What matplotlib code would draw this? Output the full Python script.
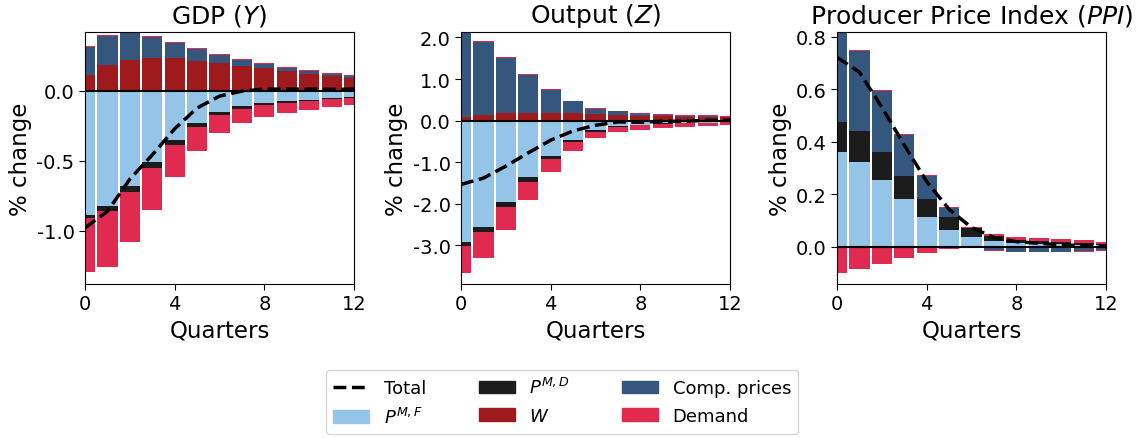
import matplotlib
matplotlib.use("Agg")
import matplotlib.pyplot as plt
from matplotlib.patches import Patch
from matplotlib.lines import Line2D
from matplotlib.ticker import FormatStrFormatter, MultipleLocator
import numpy as np

quarters = list(range(13))

# ---- GDP (Y) ----
gdp_pmf = [-0.884, -0.820, -0.678, -0.510, -0.351, -0.230, -0.152, -0.109, -0.088, -0.073, -0.064, -0.052, -0.043]
gdp_pmd = [-0.022, -0.036, -0.043, -0.040, -0.038, -0.028, -0.021, -0.021, -0.014, -0.015, -0.007, -0.007, -0.007]
gdp_w = [0.116, 0.187, 0.223, 0.235, 0.232, 0.213, 0.202, 0.178, 0.161, 0.145, 0.121, 0.104, 0.090]
gdp_comp = [0.197, 0.204, 0.222, 0.149, 0.112, 0.088, 0.056, 0.042, 0.031, 0.019, 0.021, 0.014, 0.014]
gdp_dem_pos = [0.005, 0.007, 0.005, 0.007, 0.004, 0.005, 0.005, 0.008, 0.007, 0.004, 0.005, 0.008, 0.007]
gdp_dem_neg = [-0.391, -0.403, -0.360, -0.299, -0.230, -0.171, -0.128, -0.100, -0.085, -0.068, -0.064, -0.057, -0.049]
gdp_total = [-0.979, -0.861, -0.631, -0.458, -0.271, -0.123, -0.038, -0.002, 0.012, 0.012, 0.012, 0.010, 0.012]

# ---- Output (Z) ----
z_pmf = [-2.920, -2.560, -1.952, -1.360, -0.856, -0.464, -0.232, -0.136, -0.096, -0.070, -0.060, -0.050, -0.040]
z_pmd = [-0.088, -0.112, -0.128, -0.112, -0.064, -0.048, -0.040, -0.024, -0.016, -0.010, -0.008, -0.006, -0.005]
z_w = [0.080, 0.144, 0.184, 0.184, 0.184, 0.184, 0.160, 0.128, 0.120, 0.120, 0.096, 0.088, 0.080]
z_comp = [2.030, 1.744, 1.328, 0.920, 0.560, 0.280, 0.128, 0.096, 0.048, 0.024, 0.024, 0.032, 0.016]
z_dem_pos = [0.010, 0.024, 0.016, 0.024, 0.016, 0.016, 0.016, 0.016, 0.016, 0.016, 0.016, 0.016, 0.016]
z_dem_neg = [-0.648, -0.624, -0.544, -0.432, -0.312, -0.216, -0.144, -0.112, -0.112, -0.096, -0.084, -0.072, -0.059]
z_total = [-1.536, -1.384, -1.096, -0.776, -0.472, -0.248, -0.112, -0.032, -0.040, -0.016, -0.016, 0.008, 0.008]

# ---- Producer Price Index (PPI) ----
ppi_pmf = [0.362, 0.324, 0.256, 0.182, 0.114, 0.065, 0.037, 0.023, 0.014, 0.012, 0.010, 0.009, 0.007]
ppi_pmd = [0.115, 0.119, 0.106, 0.089, 0.070, 0.049, 0.034, 0.020, 0.012, 0.010, 0.009, 0.007, 0.005]
ppi_w = [0.0, 0.0, 0.0, 0.0, 0.0, 0.0, 0.0, 0.0, 0.0, 0.0, 0.0, 0.0, 0.0]
ppi_comp = [0.342, 0.304, 0.232, 0.155, 0.087, 0.035, 0.003, -0.013, -0.018, -0.018, -0.018, -0.017, -0.012]
ppi_dem_pos = [0.003, 0.003, 0.004, 0.004, 0.002, 0.002, 0.002, 0.008, 0.012, 0.011, 0.010, 0.009, 0.005]
ppi_dem_neg = [-0.100, -0.085, -0.066, -0.042, -0.024, -0.008, -0.002, -0.004, -0.002, -0.002, -0.002, -0.002, -0.003]
ppi_total = [0.722, 0.665, 0.532, 0.388, 0.249, 0.143, 0.074, 0.036, 0.020, 0.014, 0.008, 0.005, 0.002]

titles = ["GDP ($Y$)", "Output ($Z$)", "Producer Price Index ($PPI$)"]
ylims = [(-1.38, 0.42), (-3.93, 2.13), (-0.141, 0.818)]
ysteps = [0.5, 1.0, 0.2]
xticks = [0, 4, 8, 12]

c_pmf = "#94C4E8"
c_pmd = "#1C1C1C"
c_w = "#9E1A1C"
c_comp = "#36577D"
c_dem = "#E02A50"

panels = [
    [gdp_pmf, gdp_pmd, gdp_w, gdp_comp, gdp_dem_pos, gdp_dem_neg, gdp_total],
    [z_pmf, z_pmd, z_w, z_comp, z_dem_pos, z_dem_neg, z_total],
    [ppi_pmf, ppi_pmd, ppi_w, ppi_comp, ppi_dem_pos, ppi_dem_neg, ppi_total],
]
colors = [c_pmf, c_pmd, c_w, c_comp, c_dem, c_dem]

fig = plt.figure(figsize=(11.38, 4.39), dpi=100)
lefts = [0.0747, 0.4051, 0.7355]
axes = [fig.add_axes([l, 0.3508, 0.2364, 0.574]) for l in lefts]

x = np.array(quarters)
for ax, data, title, yl, ys in zip(axes, panels, titles, ylims, ysteps):
    pos_bottom = np.zeros(len(x))
    neg_bottom = np.zeros(len(x))
    for series, col in zip(data[:6], colors):
        v = np.array(series)
        pos = np.where(v > 0, v, 0.0)
        neg = np.where(v < 0, v, 0.0)
        ax.bar(x, pos, bottom=pos_bottom, width=0.9, color=col, linewidth=0)
        ax.bar(x, neg, bottom=neg_bottom, width=0.9, color=col, linewidth=0)
        pos_bottom += pos
        neg_bottom += neg
    ax.axhline(0, color="black", lw=1.5, zorder=3)
    ax.plot(x, data[6], color="black", ls="--", lw=2.5, zorder=4)
    ax.set_xlim(0, 12)
    ax.set_ylim(*yl)
    ax.set_xticks(xticks)
    ax.yaxis.set_major_locator(MultipleLocator(ys))
    ax.yaxis.set_major_formatter(FormatStrFormatter("%.1f"))
    ax.tick_params(labelsize=14, length=4.3, pad=3.2)
    ax.set_title(title, fontsize=18, pad=7)
    ax.set_xlabel("Quarters", fontsize=16.5, labelpad=4)
    ax.set_ylabel("% change", fontsize=16.5, labelpad=3)

handles = [
    Line2D([0], [0], color="black", ls="--", lw=2.5),
    Patch(color=c_pmf),
    Patch(color=c_pmd),
    Patch(color=c_w),
    Patch(color=c_comp),
    Patch(color=c_dem),
]
labels = ["Total", "$P^{M,F}$", "$P^{M,D}$", "$W$", "Comp. prices", "Demand"]
fig.legend(handles, labels, loc="center", bbox_to_anchor=(0.494, 0.082), ncol=3,
           fontsize=13, columnspacing=2.9, handlelength=2.0)

fig.savefig("out.png", dpi=100)
